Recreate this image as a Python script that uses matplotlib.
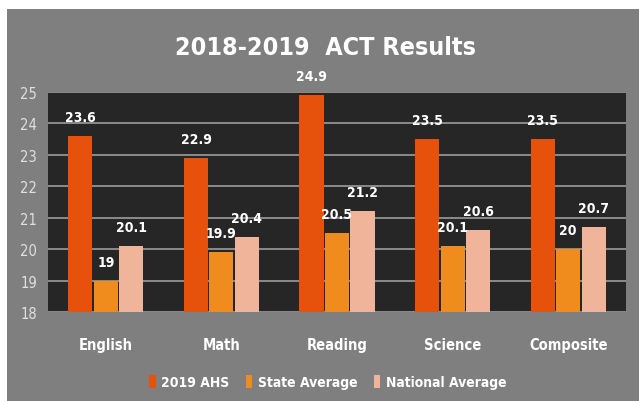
import matplotlib.pyplot as plt
import matplotlib.patches as patches
import numpy as np

categories = ["English", "Math", "Reading", "Science", "Composite"]
ahs_2019 = [23.6, 22.9, 24.9, 23.5, 23.5]
state_avg = [19, 19.9, 20.5, 20.1, 20]
national_avg = [20.1, 20.4, 21.2, 20.6, 20.7]
series_names = ["2019 AHS", "State Average", "National Average"]
colors = ["#e6520c", "#f08c1e", "#f0b49a"]

plt.rcParams['font.family'] = ['DejaVu Sans']
plt.rcParams['font.stretch'] = 'condensed'

fig = plt.figure(figsize=(6.39, 4.02), dpi=100)
fig.patch.set_facecolor("white")
# gray chart panel, white strip on left/top
fig.patches.append(patches.Rectangle((7 / 639, 0), 1, 1 - 10 / 402,
                                     transform=fig.transFigure,
                                     facecolor="#7f7f7f", edgecolor="none",
                                     zorder=-5))

ax = fig.add_axes([48 / 639, 1 - 313 / 402, (626 - 48) / 639, (313 - 93) / 402])
ax.set_facecolor("#262626")

x = np.arange(len(categories))
w = 0.22
for i, (vals, name) in enumerate(zip([ahs_2019, state_avg, national_avg], series_names)):
    pos = x + (i - 1) * w
    ax.bar(pos, np.array(vals) - 18, width=w * 0.95, bottom=18, color=colors[i],
           label=name, zorder=3)
    for p, v in zip(pos, vals):
        ax.text(p, v + 0.38, f"{v:g}", ha="center", va="bottom", color="white",
                fontsize=10, fontweight="bold", zorder=4, clip_on=False)

ax.set_ylim(18, 25)
ax.set_xlim(-0.5, len(categories) - 0.5)
ax.set_yticks(range(18, 26))
ax.yaxis.grid(True, color="#a6a6a6", linewidth=1.1, zorder=1)
ax.set_xticks(x)
ax.set_xticklabels(categories, fontsize=10.5, fontweight="bold", color="white")
ax.tick_params(axis="y", colors="#e0e0e0", labelsize=10.5, length=0, pad=8)
ax.tick_params(axis="x", length=0, pad=18)
for s in ax.spines.values():
    s.set_visible(False)

fig.text(325 / 639, 1 - 48 / 402, "2018-2019  ACT Results", ha="center", va="center",
         fontsize=18, fontweight="bold", color="white")

leg = fig.legend(loc="center", bbox_to_anchor=(328 / 639, 1 - 383 / 402), ncol=3,
                 frameon=False, fontsize=10, handlelength=0.45, handleheight=1.1,
                 handletextpad=0.4, columnspacing=1.2)
for t in leg.get_texts():
    t.set_color("white")
    t.set_fontweight("bold")

fig.savefig("out.png", dpi=100)
